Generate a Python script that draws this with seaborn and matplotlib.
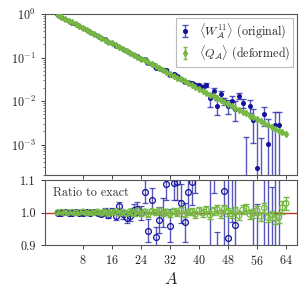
import numpy as np
import matplotlib
matplotlib.use("Agg")
import matplotlib.pyplot as plt
import seaborn as sns

### Data
# system size A
A_all = np.arange(1, 65)
A_orig = np.arange(1, 63)

# exact value at each A
exact = [0.955, 0.8637, 0.7811, 0.7065, 0.6389, 0.5778, 0.5226, 0.4726, 0.4274, 0.3866,
         0.3496, 0.3162, 0.2860, 0.2586, 0.2339, 0.2115, 0.1913, 0.1730, 0.1565, 0.1415,
         0.1280, 0.1158, 0.1047, 0.0947, 0.0856, 0.0775, 0.0700, 0.0633, 0.0573, 0.0518,
         0.0469, 0.0424, 0.0383, 0.0347, 0.0314, 0.0284, 0.0257, 0.0232, 0.0210, 0.0190,
         0.0172, 0.0155, 0.0140, 0.0127, 0.0115, 0.0104, 0.00940, 0.00850, 0.00769, 0.00695,
         0.00629, 0.00569, 0.00514, 0.00465, 0.00421, 0.00381, 0.00344, 0.00311, 0.00282, 0.00255,
         0.00230, 0.00208, 0.00188, 0.00170]

# original observable: ratio to exact and its error
ratio_orig = [1.000, 0.999, 1.001, 1.000, 0.998, 1.002, 1.000, 0.997, 1.001, 0.999,
              1.003, 0.998, 0.996, 1.006, 0.992, 1.004, 0.988, 1.020, 0.995, 0.982,
              0.990, 1.008, 1.012, 0.998, 1.064, 0.944, 1.038, 0.925, 0.977, 1.000,
              1.088, 0.960, 1.090, 1.093, 1.028, 0.970, 1.062, 1.093, 1.140, 1.220,
              1.25, 1.51, 0.82, 1.31, 0.68, 1.39, 1.067, 0.92, 1.32, 0.962,
              2.10, 1.60, -0.50, 1.68, 0.89, 0.075, -0.60, 1.63, 0.36, -0.50,
              1.24, 1.37]
err_orig = [0.002, 0.002, 0.002, 0.003, 0.003, 0.003, 0.004, 0.004, 0.004, 0.005,
            0.005, 0.006, 0.007, 0.008, 0.009, 0.010, 0.011, 0.013, 0.014, 0.015,
            0.016, 0.018, 0.020, 0.022, 0.035, 0.036, 0.037, 0.030, 0.040, 0.045,
            0.050, 0.050, 0.050, 0.055, 0.060, 0.060, 0.065, 0.070, 0.080, 0.090,
            0.10, 0.15, 0.30, 0.25, 0.26, 0.27, 0.20, 0.33, 0.35, 0.45,
            0.34, 0.36, 0.79, 0.56, 0.63, 0.95, 1.01, 0.77, 1.02, 1.58,
            1.17, 1.35]

# deformed observable: ratio to exact and its error
ratio_def = [1.000, 1.001, 0.999, 1.000, 1.001, 0.999, 1.000, 1.002, 0.998, 1.001,
             0.999, 1.002, 0.998, 1.003, 0.997, 1.001, 1.004, 0.998, 1.002, 0.996,
             1.003, 0.998, 1.005, 0.997, 1.002, 0.995, 1.004, 0.999, 1.006, 0.997,
             1.002, 0.996, 1.004, 0.998, 1.007, 0.995, 1.001, 1.003, 0.994, 1.006,
             0.998, 1.008, 0.992, 1.004, 1.010, 0.996, 1.012, 1.002, 0.995, 1.006,
             0.990, 1.008, 1.012, 0.994, 0.998, 1.006, 0.988, 1.014, 0.985, 0.992,
             0.980, 0.985, 1.015, 1.028]
err_def = [0.002] * 5 + [0.003] * 5 + [0.005] * 10 + [0.008] * 10 + [0.010] * 10 \
          + [0.012] * 10 + [0.014] * 10 + [0.016, 0.018, 0.019, 0.020]

exact = np.array(exact)
ratio_orig = np.array(ratio_orig)
err_orig = np.array(err_orig)
ratio_def = np.array(ratio_def)
err_def = np.array(err_def)

# absolute values for the upper panel
w_orig = exact[:len(A_orig)] * ratio_orig
w_orig_err = exact[:len(A_orig)] * err_orig
q_def = exact * ratio_def
q_def_err = exact * err_def

### Style
sns.set_theme(style="ticks")
plt.rcParams["font.family"] = "serif"
plt.rcParams["font.serif"] = ["cmr10", "DejaVu Serif"]
plt.rcParams["mathtext.fontset"] = "cm"
plt.rcParams["axes.unicode_minus"] = False
plt.rcParams["axes.formatter.use_mathtext"] = True
plt.rcParams["axes.edgecolor"] = "#555555"
plt.rcParams["axes.linewidth"] = 0.8
plt.rcParams["xtick.color"] = "#444444"
plt.rcParams["ytick.color"] = "#444444"
plt.rcParams["xtick.labelcolor"] = "#222222"
plt.rcParams["ytick.labelcolor"] = "#222222"

fs = 8.7
blue = "#12129c"
blue_bar = (0.12, 0.12, 0.65, 0.75)
green = "#77b843"

fig = plt.figure(figsize=(3.07, 2.95), dpi=100)
ax1 = fig.add_axes([0.1466, 0.4068, 0.8208, 0.5457])
ax2 = fig.add_axes([0.1466, 0.1695, 0.8208, 0.2203], sharex=ax1)

# upper panel
ax1.errorbar(A_orig, w_orig, yerr=w_orig_err, fmt="o", ms=2.6, color=blue,
             ecolor=blue_bar, elinewidth=1.0, capsize=2, capthick=1.0,
             label=r"$\langle W^{11}_{\mathcal{A}}\rangle$ (original)", zorder=2)
ax1.errorbar(A_all, q_def, yerr=q_def_err, fmt="d", ms=3.2, color=green,
             ecolor=green, elinewidth=1.0, capsize=1.5,
             label=r"$\langle Q_{\mathcal{A}}\rangle$ (deformed)", zorder=3)
ax1.set_yscale("log")
ax1.set_ylim(2e-4, 1)
ax1.set_xlim(-2.5, 67)
ax1.tick_params(labelbottom=False, labelsize=fs, length=3, width=0.7)
ax1.tick_params(which="minor", length=1.6, width=0.5)
leg = ax1.legend(loc="upper right", fontsize=fs, frameon=True, fancybox=False,
                 edgecolor="#aaaaaa", handlelength=1.0, handletextpad=0.6,
                 borderaxespad=0.3, labelspacing=0.25, borderpad=0.3)
leg.get_frame().set_linewidth(0.8)

# ratio panel
ax2.axhline(1.0, color="#c0392b", lw=1.0, zorder=1)
ax2.errorbar(A_orig, ratio_orig, yerr=err_orig, fmt="o", ms=4.2, mfc="none",
             mec=blue, mew=0.9, ecolor=blue_bar, elinewidth=1.0,
             capsize=2.5, capthick=1.0, zorder=2)
sns.scatterplot(x=A_all, y=ratio_def, ax=ax2, marker="o", s=16,
                facecolor="none", edgecolor=green, linewidth=0.9, zorder=4)
ax2.errorbar(A_all, ratio_def, yerr=err_def, fmt="none", ecolor=green,
             elinewidth=1.0, capsize=2.5, capthick=1.0, zorder=3)
ax2.set_ylim(0.9, 1.1)
ax2.set_yticks([0.9, 1.0, 1.1])
ax2.set_yticklabels(["0.9", "1.0", "1.1"])
ax2.set_xticks([8, 16, 24, 32, 40, 48, 56, 64])
ax2.tick_params(labelsize=fs, length=3, width=0.7)
ax2.text(0.03, 0.9, "Ratio to exact", transform=ax2.transAxes, fontsize=fs,
         va="top", ha="left", color="#333333")
ax2.set_xlabel(r"$A$", fontsize=12, labelpad=2)

fig.savefig("out.png", dpi=100)
